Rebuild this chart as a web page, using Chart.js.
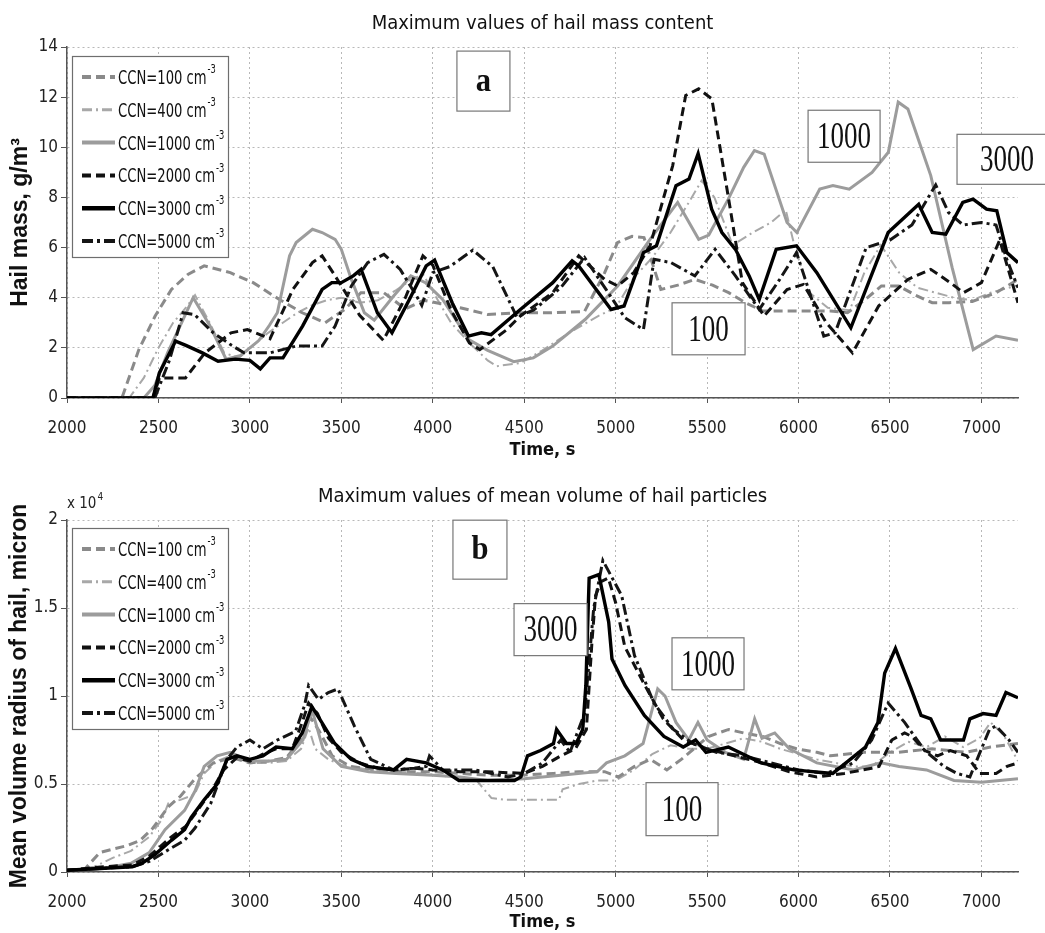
<!DOCTYPE html>
<html>
<head>
<meta charset="utf-8">
<script src="https://cdn.jsdelivr.net/npm/chart.js@4.4.0/dist/chart.umd.min.js"></script>
<style>
  html, body { margin: 0; padding: 0; background: #fff; }
  #wrap { position: relative; width: 1045px; height: 933px; }
  canvas { position: absolute; left: 0; }
  #chartA { top: 0; }
  #chartB { top: 466px; }
</style>
</head>
<body>
<div id="wrap">
  <canvas id="chartA" width="1045" height="466"></canvas>
  <canvas id="chartB" width="1045" height="467"></canvas>
</div>
<script>
const ccnLabels = ['100', '400', '1000', '2000', '3000', '5000'];
const timeTicks = [2000, 2500, 3000, 3500, 4000, 4500, 5000, 5500, 6000, 6500, 7000];

// panel a: hail mass, g/m3  [time s, value]
const mass100 = [[2000,0],[2300,0],[2393,1.93],[2482,3.27],[2571,4.33],[2661,4.93],[2750,5.27],[2893,5.0],[3018,4.6],[3161,3.93],[3286,3.4],[3411,3.0],[3518,3.53],[3607,4.2],[3732,4.2],[3850,3.55],[3950,3.9],[4050,3.75],[4150,3.6],[4300,3.33],[4480,3.4],[4650,3.4],[4830,3.45],[4940,5.0],[5010,6.2],[5090,6.45],[5155,6.4],[5247,4.33],[5340,4.5],[5433,4.73],[5530,4.5],[5618,4.2],[5710,3.8],[5804,3.47],[6000,3.47],[6175,3.47],[6268,3.4],[6360,3.9],[6453,4.47],[6546,4.47],[6640,4.1],[6731,3.8],[6824,3.8],[6950,3.85],[7080,4.2],[7200,4.73]];
const mass400 = [[2000,0],[2340,0],[2420,0.8],[2500,2.0],[2580,3.0],[2650,3.6],[2700,4.1],[2780,3.0],[2860,1.8],[2940,1.6],[3020,2.1],[3100,2.6],[3180,3.0],[3260,3.4],[3340,3.7],[3420,3.9],[3500,4.0],[3600,3.8],[3700,3.9],[3800,4.3],[3900,4.8],[3950,4.9],[4020,4.0],[4100,3.0],[4200,2.2],[4300,1.5],[4350,1.27],[4480,1.4],[4600,1.9],[4745,2.6],[4904,3.27],[5000,3.6],[5100,4.8],[5200,5.6],[5300,6.6],[5400,7.8],[5470,8.67],[5540,8.0],[5640,6.1],[5750,6.6],[5850,7.0],[5930,7.5],[5980,6.0],[6060,4.2],[6160,3.6],[6280,3.5],[6360,5.0],[6450,6.1],[6550,5.0],[6650,4.4],[6750,4.2],[6850,4.0],[6950,3.9],[7050,4.2],[7200,4.5]];
const mass1000 = [[2000,0],[2420,0],[2480,0.5],[2550,1.8],[2620,2.9],[2690,4.0],[2780,2.9],[2870,1.55],[2950,1.7],[3050,2.3],[3107,2.9],[3150,3.4],[3217,5.67],[3253,6.2],[3342,6.73],[3395,6.6],[3466,6.33],[3500,5.93],[3555,4.73],[3626,3.4],[3680,3.1],[3786,4.07],[3880,4.87],[3960,4.6],[4054,3.93],[4197,2.33],[4300,1.9],[4443,1.45],[4550,1.6],[4656,2.07],[4833,3.13],[5011,4.47],[5188,6.33],[5339,7.8],[5454,6.33],[5509,6.5],[5616,7.93],[5700,9.2],[5759,9.87],[5812,9.73],[5937,7.0],[5991,6.6],[6116,8.33],[6188,8.47],[6277,8.33],[6402,9.0],[6491,9.8],[6545,11.8],[6598,11.53],[6723,8.87],[6840,5.2],[6955,1.93],[7080,2.47],[7200,2.3]];
const mass2000 = [[2000,0],[2470,0],[2505,0.8],[2648,0.8],[2754,1.8],[2897,2.6],[2986,2.73],[3075,2.47],[3110,2.36],[3235,4.33],[3342,5.4],[3395,5.67],[3466,4.87],[3600,3.3],[3730,2.3],[3850,4.0],[3946,5.67],[4000,5.3],[4100,3.5],[4200,2.2],[4257,1.93],[4400,2.7],[4479,3.27],[4656,4.2],[4798,5.67],[4940,4.73],[5011,4.47],[5099,5.0],[5188,6.07],[5312,9.27],[5383,12.07],[5454,12.33],[5526,11.93],[5618,7.93],[5693,4.6],[5812,3.27],[5937,4.33],[6027,4.53],[6152,3.0],[6295,1.8],[6438,3.67],[6598,4.73],[6723,5.13],[6830,4.6],[6902,4.2],[7000,4.6],[7100,6.3],[7200,3.8]];
const mass3000 = [[2000,0],[2470,0],[2505,1.0],[2594,2.27],[2650,2.1],[2740,1.8],[2826,1.47],[2920,1.55],[3000,1.5],[3057,1.16],[3110,1.6],[3181,1.6],[3288,2.87],[3395,4.33],[3448,4.6],[3500,4.6],[3565,4.87],[3608,5.13],[3697,3.4],[3777,2.6],[3870,3.9],[3964,5.27],[4010,5.5],[4053,4.73],[4106,3.8],[4195,2.47],[4266,2.6],[4319,2.53],[4479,3.53],[4656,4.6],[4762,5.47],[4798,5.27],[4975,3.53],[5046,3.67],[5152,5.8],[5223,6.07],[5330,8.47],[5401,8.73],[5451,9.75],[5525,7.53],[5581,6.6],[5655,5.93],[5730,4.87],[5785,3.93],[5878,5.93],[5989,6.07],[6100,5.0],[6286,2.8],[6490,6.6],[6657,7.73],[6731,6.6],[6805,6.53],[6898,7.8],[6954,7.93],[7028,7.53],[7084,7.47],[7139,5.8],[7200,5.4]];
const mass5000 = [[2000,0],[2480,0],[2560,1.5],[2635,3.4],[2697,3.33],[2800,2.6],[2900,2.1],[2968,1.8],[3110,1.8],[3253,2.07],[3395,2.07],[3466,2.87],[3555,4.47],[3644,5.4],[3733,5.73],[3822,5.13],[3911,4.07],[3940,3.7],[4000,5.0],[4093,5.24],[4219,5.9],[4328,5.24],[4459,3.24],[4550,3.5],[4700,4.4],[4830,5.6],[4950,4.3],[5050,3.2],[5152,2.73],[5210,5.53],[5303,5.4],[5433,4.87],[5544,5.93],[5655,4.87],[5785,3.53],[5897,4.73],[5989,5.8],[6138,2.47],[6200,2.6],[6370,6.0],[6500,6.3],[6620,6.9],[6750,8.5],[6820,7.4],[6900,6.9],[7000,7.0],[7080,6.9],[7140,5.5],[7200,4.4]];

// panel b: mean volume radius of hail, micron  [time s, value]
const rad100 = [[2000,100],[2100,200],[2179,1100],[2250,1300],[2330,1500],[2400,1800],[2470,2500],[2554,3700],[2620,4300],[2700,5300],[2800,6200],[2900,6500],[3000,6200],[3100,6300],[3200,6500],[3280,7500],[3330,8800],[3380,8000],[3450,6600],[3550,6000],[3700,5800],[3850,5700],[4000,5700],[4150,5600],[4300,5500],[4482,5500],[4660,5600],[4800,5700],[4940,5700],[5014,5400],[5103,6000],[5191,6400],[5280,5800],[5359,6400],[5450,7200],[5507,7700],[5618,8100],[5700,7900],[5804,7700],[5900,7300],[5989,7000],[6100,6800],[6175,6600],[6360,6800],[6546,6800],[6731,7000],[6917,6800],[7050,7100],[7200,7300]];
const rad400 = [[2000,100],[2150,300],[2250,800],[2350,1200],[2450,2000],[2520,3000],[2554,3900],[2620,4100],[2697,4400],[2750,5600],[2820,6300],[2893,6600],[3000,6200],[3100,6200],[3200,6300],[3280,7000],[3321,8200],[3357,7000],[3429,6400],[3500,6100],[3650,5800],[3800,5700],[3950,5600],[4100,5400],[4232,5300],[4321,4200],[4400,4100],[4500,4100],[4600,4100],[4690,4100],[4710,4700],[4800,5000],[4900,5200],[5000,5200],[5100,5800],[5200,6700],[5300,7200],[5400,7000],[5500,7000],[5600,7300],[5700,7600],[5800,7400],[5900,7000],[6000,6700],[6100,6400],[6200,6200],[6300,6000],[6400,6000],[6500,6800],[6600,7400],[6700,7100],[6800,7700],[6900,7100],[6990,7600],[7050,8500],[7120,7800],[7200,6300]];
const rad1000 = [[2000,100],[2200,200],[2350,500],[2450,1100],[2536,2400],[2643,3500],[2700,4600],[2750,6000],[2821,6600],[2893,6800],[3000,6300],[3100,6300],[3200,6400],[3290,7500],[3340,9200],[3400,7000],[3500,6000],[3650,5700],[3800,5600],[4000,5500],[4150,5400],[4300,5200],[4500,5300],[4700,5500],[4900,5700],[4950,6200],[5050,6600],[5150,7300],[5230,10400],[5270,10000],[5330,8500],[5400,7500],[5450,8500],[5500,7500],[5600,6800],[5700,6400],[5760,8700],[5800,7600],[5870,7900],[5950,7000],[6100,6200],[6300,5800],[6450,6200],[6550,6000],[6700,5800],[6850,5200],[7000,5100],[7200,5300]];
const rad2000 = [[2000,100],[2200,300],[2357,400],[2450,900],[2571,2000],[2650,2600],[2714,3500],[2790,4600],[2857,5800],[2929,6500],[3000,6300],[3071,6700],[3143,7000],[3232,7000],[3286,8500],[3321,9600],[3370,9000],[3430,7600],[3500,6800],[3600,6200],[3700,5900],[3800,5800],[3900,5900],[4000,5800],[4150,5700],[4300,5700],[4500,5600],[4600,6000],[4700,6600],[4780,7000],[4840,8100],[4870,13000],[4890,15700],[4920,16500],[4960,16700],[5000,15300],[5050,12800],[5160,10600],[5260,8700],[5370,7500],[5500,7000],[5650,6600],[5800,6200],[5950,5700],[6100,5400],[6250,5600],[6400,5900],[6440,6000],[6510,7500],[6580,7900],[6620,7700],[6690,6900],[6760,6600],[6830,6900],[6920,6600],[6990,5600],[7080,5600],[7140,6000],[7200,6200]];
const rad3000 = [[2000,100],[2357,300],[2411,500],[2482,1000],[2571,1800],[2643,2400],[2679,3100],[2750,4100],[2821,5000],[2875,6400],[2929,6600],[3000,6400],[3071,6600],[3143,7100],[3232,7000],[3286,7900],[3339,9400],[3393,8500],[3464,7300],[3554,6400],[3643,6000],[3786,5800],[3857,6400],[3964,6200],[4054,5800],[4143,5200],[4321,5200],[4447,5200],[4482,5400],[4518,6600],[4589,6900],[4660,7300],[4677,8100],[4731,7300],[4784,7300],[4820,8100],[4837,10600],[4855,16700],[4908,16900],[4962,14200],[4980,12100],[5051,10600],[5157,8900],[5264,7700],[5370,7100],[5437,7500],[5494,6800],[5616,7100],[5795,6200],[5973,5800],[6187,5600],[6259,6200],[6366,7100],[6434,8500],[6471,11300],[6530,12700],[6616,10400],[6670,8900],[6723,8700],[6777,7500],[6830,7500],[6902,7500],[6937,8700],[7009,9000],[7080,8900],[7134,10200],[7200,9900]];
const rad5000 = [[2000,100],[2357,300],[2450,600],[2560,1300],[2643,1800],[2700,2500],[2786,3900],[2875,6400],[2929,7100],[3000,7500],[3071,7000],[3150,7500],[3250,8000],[3300,9500],[3321,10600],[3375,9800],[3429,10200],[3482,10400],[3571,8300],[3661,6400],[3786,5800],[3900,5900],[3964,6000],[3982,6600],[4054,5800],[4232,5800],[4411,5400],[4500,5600],[4600,6200],[4700,7500],[4750,6800],[4830,9000],[4880,15000],[4930,17700],[5033,15700],[5103,12300],[5209,9600],[5316,8100],[5422,7300],[5550,6800],[5700,6600],[5850,6200],[6000,5800],[6150,5600],[6300,6200],[6400,7500],[6490,9600],[6580,8500],[6690,6900],[6795,6000],[6866,5600],[6937,5400],[7044,8100],[7080,8300],[7151,7500],[7200,6800]];

const radTickLabels = ['0', '0.5', '1', '1.5', '2'];

// label boxes, placed in data coordinates
const labelsA = [
    { text: 'a', t: 4277, v: 12.64, w: 53, h: 60, bold: true },
    { text: '1000', t: 6249, v: 10.44, w: 72, h: 52 },
    { text: '3000', t: 7140, v: 9.52, w: 100, h: 50 },
    { text: '100', t: 5508, v: 2.76, w: 73, h: 52 }
];
const labelsB = [
    { text: 'b', t: 4258, v: 18314, w: 54, h: 59, bold: true },
    { text: '3000', t: 4644, v: 13771, w: 73, h: 52 },
    { text: '1000', t: 5505, v: 11829, w: 72, h: 52 },
    { text: '100', t: 5363, v: 3571, w: 72, h: 53 }
];

const NARROW = '"Liberation Sans Narrow", "DejaVu Sans Condensed", "Liberation Sans", sans-serif';
const SERIF = '"Liberation Serif", "DejaVu Serif", serif';
const BOLDSANS = '"Liberation Sans", Arial, sans-serif';

const lineStyles = [
    { color: '#8a8a8a', width: 3, dash: [9, 5] },
    { color: '#a8a8a8', width: 2, dash: [10, 4, 2, 4] },
    { color: '#9c9c9c', width: 3, dash: [] },
    { color: '#111111', width: 3, dash: [9, 5] },
    { color: '#000000', width: 3.4, dash: [] },
    { color: '#151515', width: 3, dash: [11, 4, 3, 4] }
];
const drawOrder = [4, 5, 3, 2, 0, 1];

function buildDatasets(series) {
    return series.map((pts, i) => ({
        label: 'CCN=' + ccnLabels[i] + ' cm-3',
        data: pts.map(p => ({ x: p[0], y: p[1] })),
        borderColor: lineStyles[i].color,
        borderWidth: lineStyles[i].width,
        borderDash: lineStyles[i].dash,
        pointRadius: 0,
        tension: 0,
        fill: false,
        order: drawOrder[i]
    }));
}

function squeezeText(ctx, text, x, y, sx) {
    ctx.save();
    ctx.translate(x, y);
    ctx.scale(sx, 1);
    ctx.fillText(text, 0, 0);
    ctx.restore();
}

const decor = {
    id: 'decor',
    afterDatasetsDraw(chart, args, opts) {
        const { ctx, chartArea } = chart;
        const xs = chart.scales.x, ys = chart.scales.y;
        ctx.save();

        // legend box
        const lx = chartArea.left + 5, ly = chartArea.top + opts.legendTop;
        ctx.fillStyle = '#fff';
        ctx.fillRect(lx, ly, 156, 201);
        ctx.strokeStyle = '#6e6e6e';
        ctx.lineWidth = 1.2;
        ctx.strokeRect(lx + 0.5, ly + 0.5, 156, 201);
        chart.data.datasets.forEach((ds, i) => {
            const yy = ly + 21 + i * 32.8;
            ctx.setLineDash(ds.borderDash);
            ctx.strokeStyle = ds.borderColor;
            ctx.lineWidth = ds.borderWidth + 1;
            ctx.beginPath();
            ctx.moveTo(lx + 10, yy);
            ctx.lineTo(lx + 43, yy);
            ctx.stroke();
            ctx.setLineDash([]);
            ctx.fillStyle = '#111';
            ctx.textAlign = 'left';
            ctx.textBaseline = 'middle';
            ctx.font = '19px ' + NARROW;
            const txt = 'CCN=' + ccnLabels[i] + ' cm';
            const sx = 0.77;
            squeezeText(ctx, txt, lx + 46, yy + 2, sx);
            const w = ctx.measureText(txt).width * sx;
            ctx.font = '12px ' + NARROW;
            squeezeText(ctx, '-3', lx + 47 + w, yy - 7, sx);
        });

        // annotation boxes
        opts.labels.forEach(b => {
            const cx = xs.getPixelForValue(b.t), cy = ys.getPixelForValue(b.v);
            ctx.fillStyle = '#fff';
            ctx.fillRect(cx - b.w / 2, cy - b.h / 2, b.w, b.h);
            ctx.strokeStyle = '#777';
            ctx.lineWidth = 1.2;
            ctx.strokeRect(cx - b.w / 2, cy - b.h / 2, b.w, b.h);
            ctx.fillStyle = '#111';
            ctx.textAlign = 'center';
            ctx.textBaseline = 'middle';
            if (b.bold) {
                ctx.font = 'bold 34px ' + SERIF;
                squeezeText(ctx, b.text, cx, cy + 1, 0.9);
            } else {
                ctx.font = '37px ' + SERIF;
                squeezeText(ctx, b.text, cx, cy + 2, 0.73);
            }
        });

        // exponent note
        if (opts.exponent) {
            ctx.fillStyle = '#222';
            ctx.textAlign = 'left';
            ctx.textBaseline = 'alphabetic';
            ctx.font = '15px ' + NARROW;
            ctx.fillText('x 10', chartArea.left, chartArea.top - 12);
            const w = ctx.measureText('x 10').width;
            ctx.font = '10px ' + NARROW;
            ctx.fillText('4', chartArea.left + w + 1, chartArea.top - 20);
        }
        ctx.restore();
    }
};

function makeChart(id, cfg) {
    return new Chart(document.getElementById(id), {
        type: 'line',
        data: { datasets: buildDatasets(cfg.series) },
        plugins: [decor],
        options: {
            responsive: false,
            animation: false,
            devicePixelRatio: 1,
            layout: { padding: { left: 0, right: 27, top: 0, bottom: 0 } },
            plugins: {
                legend: { display: false },
                tooltip: { enabled: false },
                title: {
                    display: true,
                    fullSize: false,
                    text: cfg.title,
                    color: '#111',
                    font: { family: NARROW, size: 20, weight: 'normal', lineHeight: 1.2 },
                    padding: { top: cfg.titleTop, bottom: 48 - 24 - 13 }
                },
                decor: { legendTop: cfg.legendTop, labels: cfg.labels, exponent: cfg.exponent }
            },
            scales: {
                x: {
                    type: 'linear',
                    min: 2000,
                    max: 7200,
                    afterFit: s => { s.height = cfg.xHeight; },
                    afterBuildTicks: s => { s.ticks = timeTicks.map(v => ({ value: v })); },
                    ticks: { color: '#222', padding: cfg.xTickPad, maxRotation: 0, autoSkip: false, font: { family: NARROW, size: 17 }, callback: v => String(v) },
                    grid: { color: '#b8b8b8', tickColor: '#555', tickLength: 5 },
                    border: { color: '#555', width: 1.5, dash: [2, 3] },
                    title: { display: true, text: 'Time, s', color: '#111', font: { family: NARROW, size: 18, weight: 'bold', lineHeight: 1.2 }, padding: { top: 0, bottom: cfg.xTitlePad } }
                },
                y: {
                    min: 0,
                    max: cfg.yMax,
                    afterFit: s => { s.width = 67; },
                    ticks: {
                        stepSize: cfg.yStep,
                        color: '#222',
                        padding: 3,
                        font: { family: NARROW, size: 17 },
                        callback: cfg.yTick
                    },
                    grid: { color: '#b8b8b8', tickColor: '#555', tickLength: 6 },
                    border: { color: '#555', width: 1.5, dash: [2, 3] },
                    title: { display: true, text: cfg.yTitle, color: '#111', font: { family: BOLDSANS, size: cfg.yTitleSize, weight: 'bold', lineHeight: 1.2 }, padding: { top: cfg.yTitlePad, bottom: 0 } }
                }
            }
        }
    });
}

makeChart('chartA', {
    series: [mass100, mass400, mass1000, mass2000, mass3000, mass5000],
    title: 'Maximum values of hail mass content',
    titleTop: 12,
    legendTop: 9,
    labels: labelsA,
    exponent: false,
    xHeight: 68,
    xTickPad: 15,
    xTitlePad: 5,
    yMax: 14,
    yStep: 2,
    yTitle: 'Hail mass, g/m\u00B3',
    yTitleSize: 23,
    yTitlePad: 7,
    yTick: v => v
});

makeChart('chartB', {
    series: [rad100, rad400, rad1000, rad2000, rad3000, rad5000],
    title: 'Maximum values of mean volume of hail particles',
    titleTop: 19,
    legendTop: 8,
    labels: labelsB,
    exponent: true,
    xHeight: 61,
    xTickPad: 15,
    xTitlePad: 0,
    yMax: 20000,
    yStep: 5000,
    yTitle: 'Mean volume radius of hail, micron',
    yTitleSize: 23,
    yTitlePad: 6,
    yTick: v => radTickLabels[Math.round(v / 5000)]
});
</script>
</body>
</html>
